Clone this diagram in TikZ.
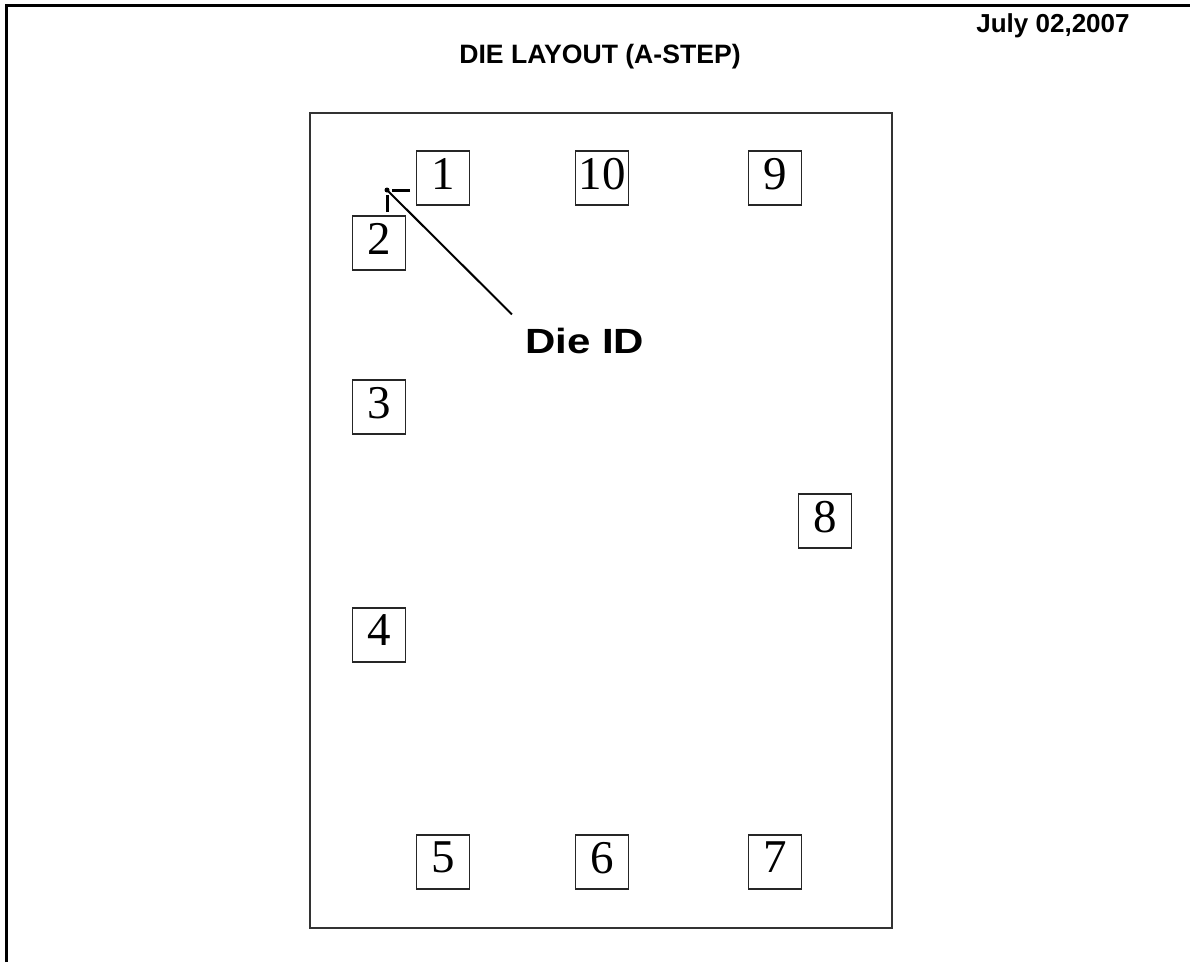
\documentclass[tikz,border=0pt]{standalone}
\usepackage{fontspec}
\setmainfont{Liberation Sans}
\newfontfamily\digitfont{Liberation Serif}
\newfontfamily\widefont[FakeStretch=1.2]{Liberation Sans}
\begin{document}
\begin{tikzpicture}[x=1pt,y=-1pt,
  pad/.style={draw=black!85,line width=1.4pt,minimum width=53pt,minimum height=54pt,inner sep=0pt,
    text depth=9pt,font=\digitfont\fontsize{47}{50}\selectfont},
  heading/.style={inner sep=0pt,anchor=base,font=\bfseries\fontsize{26}{30}\selectfont},
  frameline/.style={line width=3pt,black},
  dieline/.style={line width=2pt,black!80}]
\useasboundingbox (0,0) rectangle (1190,962);
% outer frame (top and left only)
\draw[frameline] (6,962) -- (6,5.5) -- (1190,5.5);
% texts
\node[heading] (date) at (1053,32) {July 02,2007};
\node[heading,font=\bfseries\fontsize{26.6}{30}\selectfont] (title) at (600,63) {DIE LAYOUT (A-STEP)};
% die outline
\draw[dieline] (310,113) rectangle (892,928);
% pads
\node[pad] (p1)  at (443,178) {1};
\node[pad] (p10) at (602,178) {10};
\node[pad] (p9)  at (775,178) {9};
\node[pad] (p2)  at (379,243) {2};
\node[pad] (p3)  at (379,407) {3};
\node[pad] (p8)  at (825,521) {8};
\node[pad] (p4)  at (379,635) {4};
\node[pad] (p5)  at (443,862) {5};
\node[pad] (p6)  at (602,862) {6};
\node[pad] (p7)  at (775,862) {7};
% die ID label and pointer
\node[inner sep=0pt,anchor=base west,font=\widefont\bfseries\fontsize{35}{38}\selectfont] (dieid) at (525,353) {Die ID};
\coordinate (tip) at (387,190);
\draw[line width=2pt] ([shift={(-13,-13)}]dieid.north west) -- (tip);
\draw[line width=3pt] ([shift={(23,0)}]tip) -- ([shift={(5,0)}]tip);
\draw[line width=3pt] ([shift={(0,22)}]tip) -- ([shift={(0,5)}]tip);
\fill (tip) circle (2.5);
\end{tikzpicture}
\end{document}
